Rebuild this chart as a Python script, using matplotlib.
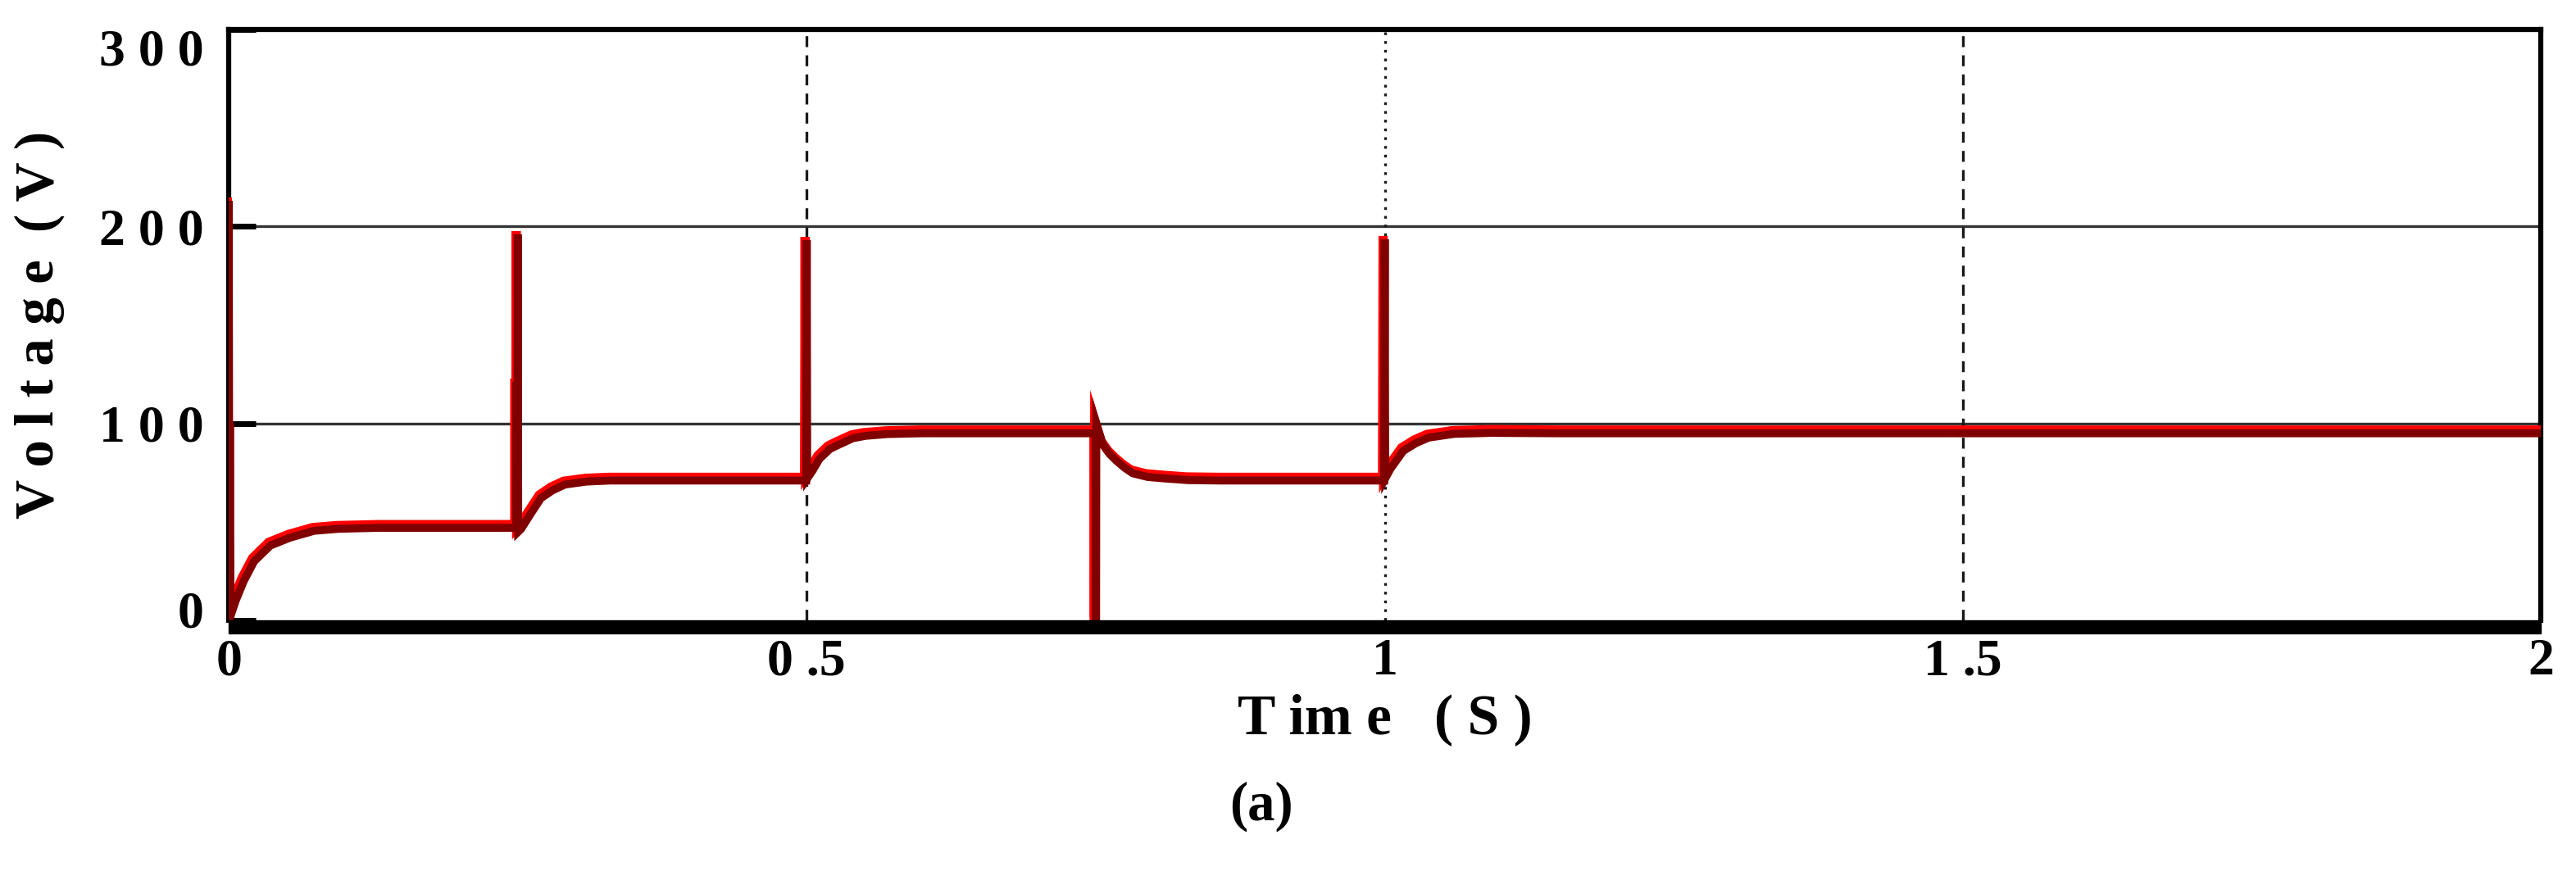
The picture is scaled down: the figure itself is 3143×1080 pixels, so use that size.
import matplotlib
matplotlib.use("Agg")
import matplotlib.pyplot as plt
import matplotlib.transforms as mtransforms
from matplotlib.patches import Rectangle

plt.rcParams['font.family'] = ['Liberation Serif', 'DejaVu Serif']
plt.rcParams['font.weight'] = 'bold'
plt.rcParams['axes.labelweight'] = 'bold'

# voltage trace (time in s, voltage in V)
time_s = [0.0, 0.0, 0.0005, 0.001, 0.0015, 0.002, 0.006, 0.013, 0.022, 0.036, 0.053,
          0.074, 0.095, 0.13, 0.2488, 0.249, 0.2492, 0.2497, 0.25, 0.2504, 0.253,
          0.26, 0.27, 0.28, 0.291, 0.31, 0.33, 0.4995, 0.5, 0.5004, 0.505, 0.511,
          0.52, 0.527, 0.54, 0.551, 0.57, 0.6, 0.7495, 0.7498, 0.75, 0.7503, 0.7505,
          0.756, 0.762, 0.768, 0.775, 0.782, 0.795, 0.811, 0.83, 0.858, 0.9995, 1.0,
          1.0004, 1.005, 1.016, 1.027, 1.038, 1.06, 1.092, 1.15, 2.0]
voltage = [0, 213, 0, 100, 5, 3, 10, 20, 30, 38, 42,
           45.5, 46.5, 47, 47, 121, 47, 47, 196, 45, 46.5,
           53, 62, 66, 69, 70.5, 71, 71, 193, 72, 76, 82,
           87, 89, 92.5, 93.7, 94.6, 95, 95, 95, 0, 0, 100,
           89.5, 84.5, 81, 77.5, 74.7, 72.8, 72, 71.2, 71, 71, 193.5,
           72, 77, 86, 90, 92.8, 94.7, 95.2, 95, 95]

y_ticks = [0, 100, 200, 300]
y_tick_labels = ['0', '1 0 0', '2 0 0', '3 0 0']
x_ticks = [0, 0.5, 1, 1.5, 2]
x_tick_labels = ['0', '0 .5', '1', '1 .5', '2']
v_grid = [0.5, 1.0, 1.5]
v_grid_styles = [(0, (4, 3)), (0, (1, 2.2)), (0, (4, 3))]

fig = plt.figure(figsize=(31.43, 10.8), dpi=100)
ax = fig.add_axes([0.0888, 0.299, 0.8975, 0.6677])

for y in [100, 200]:
    ax.axhline(y, color='#333333', lw=2.4, zorder=1)
for x, ls in zip(v_grid, v_grid_styles):
    ax.axvline(x, color='#1a1a1a', lw=2.4, linestyle=ls, zorder=1)

shift = mtransforms.offset_copy(ax.transData, fig=fig, x=-2, y=4, units='dots')
ax.plot(time_s, voltage, color='#ff0000', lw=8, transform=shift, zorder=3,
        solid_joinstyle='miter')
ax.plot(time_s, voltage, color='#800000', lw=7, zorder=4, solid_joinstyle='miter')

ax.set_xlim(0, 2)
ax.set_ylim(0, 300)

ax.set_yticks(y_ticks)
ax.set_yticklabels(y_tick_labels)
ax.set_xticks(x_ticks)
ax.set_xticklabels(x_tick_labels)
ax.tick_params(axis='y', direction='in', length=24, width=5, labelsize=46, pad=22)
ax.tick_params(axis='x', length=0, labelsize=46, pad=16)
ylab = ax.get_yticklabels()
ylab[0].set_transform(ylab[0].get_transform()
                      + mtransforms.ScaledTranslation(0, 0.14, fig.dpi_scale_trans))
ylab[-1].set_va('top')

for side in ['left', 'top', 'right']:
    ax.spines[side].set_linewidth(4.5)
ax.spines['bottom'].set_visible(False)
# heavy black bar under the plot, as in the original
ax.add_patch(Rectangle((0, -0.022), 1, 0.022, transform=ax.transAxes,
                       color='black', clip_on=False, zorder=5))

ax.set_xlabel('T im e   ( S )', fontsize=50, labelpad=6)
ax.set_ylabel('V o l t a g e  ( V )', fontsize=48, labelpad=30)
fig.text(0.4897, 0.089, '(a)', fontsize=48, ha='center', va='center')

fig.savefig('out.png', dpi=100)
